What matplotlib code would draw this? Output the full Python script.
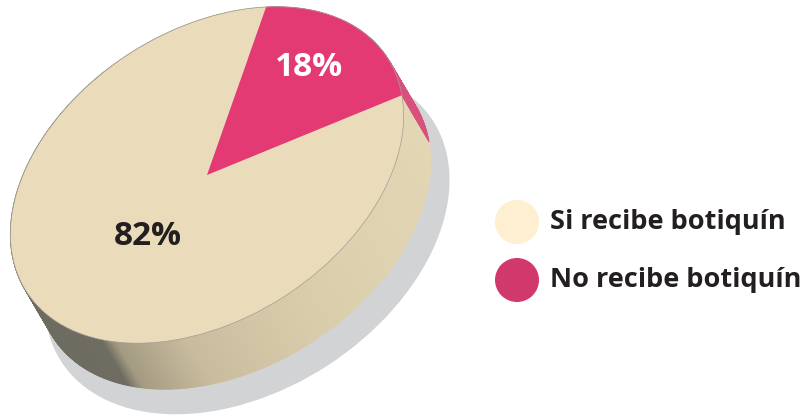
import numpy as np
import matplotlib.pyplot as plt
from matplotlib.transforms import Affine2D
from matplotlib.patches import Polygon, Circle
from matplotlib.colors import to_rgb

# DATA

labels = ["Si recibe botiquín", "No recibe botiquín"]
shares = [82, 18]
pct_labels = ["82%", "18%"]
top_colors = ["#eadcbb", "#e43a73"]
side_pink = "#d8507c"
legend_colors = ["#fdefcf", "#d1386c"]

# GEOMETRY OF THE TILTED DISC (pixel space, y down)

cx, cy = 207, 175
a, b, rot = 215, 144, 33
depth = np.array([27, 46])
start = 49

fig = plt.figure(figsize=(8.08, 4.15), dpi=100)
ax = fig.add_axes([0, 0, 1, 1])

face = Affine2D().scale(a, b).rotate_deg(rot).scale(1, -1).translate(cx, cy)
shadow = Affine2D().scale(a * 1.03, b * 1.03).rotate_deg(rot).scale(1, -1).translate(cx + 40, cy + 66)

# shadow
ax.add_patch(Circle((0, 0), 1, transform=shadow + ax.transData, fc="#d1d3d4", ec="none", zorder=1))

# side of the disc, shaded by screen x
stops_x = [0, 115, 130, 200, 300, 440]
stops_c = [to_rgb(c) for c in ["#6b6a5e", "#6f6d61", "#a39a82", "#c8bc9d", "#d8cbaa", "#e4d8b6"]]
stops_c = np.array(stops_c)

pink_from = (start + 360 * shares[0] / sum(shares)) % 360
pink_to = start % 360

t = np.linspace(0, 360, 721)
rim = face.transform(np.c_[np.cos(np.radians(t)), np.sin(np.radians(t))])
for i in range(len(t) - 1):
    tm = (t[i] + t[i + 1]) / 2
    quad = [rim[i], rim[i + 1], rim[i + 1] + depth, rim[i] + depth]
    if tm >= pink_from or tm < pink_to:
        col = side_pink
    else:
        xm = (rim[i][0] + rim[i + 1][0]) / 2 + depth[0] / 2
        col = [np.interp(xm, stops_x, stops_c[:, k]) for k in range(3)]
    ax.add_patch(Polygon(quad, closed=True, fc=col, ec=col, lw=0.6, zorder=2))

# top face
wedges, _ = ax.pie(shares, colors=top_colors, startangle=start, counterclock=True,
                   wedgeprops=dict(linewidth=0))
for w in wedges:
    w.set_transform(face + ax.transData)
    w.set_zorder(3)
ax.add_patch(Circle((0, 0), 1, transform=face + ax.transData, fc="none", ec="#a09d95", lw=0.5, zorder=4))

ax.set_aspect("auto")
ax.set_xlim(0, 808)
ax.set_ylim(415, 0)
ax.axis("off")

# percentages
ax.text(148, 236, pct_labels[0], ha="center", va="center", fontsize=24, fontweight="bold",
        family="Open Sans", color="#231f20", zorder=5)
ax.text(309, 67, pct_labels[1], ha="center", va="center", fontsize=24, fontweight="bold",
        family="Open Sans", color="white", zorder=5)

# legend
for i, (lab, col) in enumerate(zip(labels, legend_colors)):
    y = 222 + i * 58
    ax.add_patch(Circle((517, y), 22, fc=col, ec="none", zorder=5))
    ax.text(550, y, lab, ha="left", va="center", fontsize=19.5, fontweight="bold",
            family="Open Sans", color="#231f20", zorder=5)

fig.savefig("out.png", dpi=100)
